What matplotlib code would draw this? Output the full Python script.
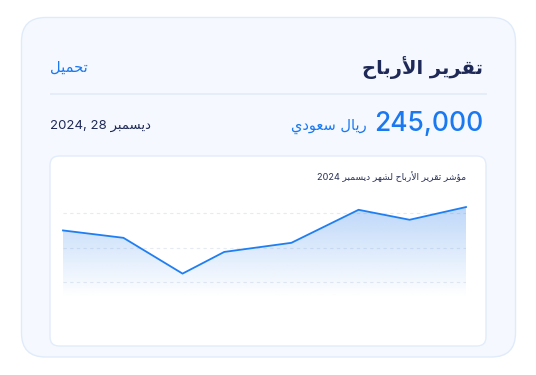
import numpy as np
import matplotlib
matplotlib.use("Agg")
import matplotlib.pyplot as plt
from matplotlib.patches import FancyBboxPatch

# ---------------------------------------------------------------- data
TITLE = "تقرير الأرباح"
DOWNLOAD = "تحميل"
TOTAL_VALUE = 245000
CURRENCY = "ريال سعودي"
DATE_DAY = 28
DATE_MONTH = "ديسمبر"
DATE_YEAR = 2024
CHART_TITLE = "مؤشر تقرير الأرباح لشهر ديسمبر 2024"

days = [1, 5.5, 9.9, 13, 18, 23, 26.8, 31]          # day of December
profit = [50.1, 45.8, 25.0, 37.6, 42.9, 62.1, 56.3, 63.7]
grid_levels = [20, 40, 60]

# ------------------------------------------------ arabic glyph shaping
# (isolated, final, initial, medial) presentation forms
FORMS = {
    "ا": (0xFE8D, 0xFE8E, None, None),
    "أ": (0xFE83, 0xFE84, None, None),
    "ؤ": (0xFE85, 0xFE86, None, None),
    "د": (0xFEA9, 0xFEAA, None, None),
    "ر": (0xFEAD, 0xFEAE, None, None),
    "و": (0xFEED, 0xFEEE, None, None),
    "ب": (0xFE8F, 0xFE90, 0xFE91, 0xFE92),
    "ت": (0xFE95, 0xFE96, 0xFE97, 0xFE98),
    "ح": (0xFEA1, 0xFEA2, 0xFEA3, 0xFEA4),
    "س": (0xFEB1, 0xFEB2, 0xFEB3, 0xFEB4),
    "ش": (0xFEB5, 0xFEB6, 0xFEB7, 0xFEB8),
    "ع": (0xFEC9, 0xFECA, 0xFECB, 0xFECC),
    "ق": (0xFED5, 0xFED6, 0xFED7, 0xFED8),
    "ل": (0xFEDD, 0xFEDE, 0xFEDF, 0xFEE0),
    "م": (0xFEE1, 0xFEE2, 0xFEE3, 0xFEE4),
    "ه": (0xFEE9, 0xFEEA, 0xFEEB, 0xFEEC),
    "ي": (0xFEF1, 0xFEF2, 0xFEF3, 0xFEF4),
}
LAM_ALEF = {
    "ا": (0xFEFB, 0xFEFC, None, None),
    "أ": (0xFEF7, 0xFEF8, None, None),
}


def shape_word(word):
    glyphs = []
    i = 0
    while i < len(word):
        c = word[i]
        if c == "ل" and i + 1 < len(word) and word[i + 1] in LAM_ALEF:
            glyphs.append(LAM_ALEF[word[i + 1]])
            i += 2
        elif c in FORMS:
            glyphs.append(FORMS[c])
            i += 1
        else:
            glyphs.append((ord(c), ord(c), None, None))
            i += 1
    out = []
    for k, g in enumerate(glyphs):
        joins_prev = k > 0 and glyphs[k - 1][2] is not None
        joins_next = g[2] is not None and k + 1 < len(glyphs)
        if joins_prev and joins_next:
            cp = g[3]
        elif joins_prev:
            cp = g[1]
        elif joins_next:
            cp = g[2]
        else:
            cp = g[0]
        out.append(chr(cp))
    return "".join(reversed(out))


def rtl(text):
    tokens = text.split(" ")
    shaped = [shape_word(t) if any(ch in FORMS for ch in t) else t for t in tokens]
    return " ".join(reversed(shaped))


# ---------------------------------------------------------------- figure
W, H = 536, 375
fig = plt.figure(figsize=(W / 100, H / 100), dpi=100)
fig.patch.set_facecolor("white")

bg = fig.add_axes([0, 0, 1, 1])
bg.set_xlim(0, W)
bg.set_ylim(H, 0)
bg.axis("off")

NAVY = "#1f2957"
BLUE = "#1a78f0"
ARABIC = ["DejaVu Sans"]
NUMS = ["Inter", "DejaVu Sans"]

# outer card
bg.add_patch(FancyBboxPatch((21.5, 17.5), 494, 339.5,
                            boxstyle="round,pad=0,rounding_size=24",
                            facecolor="#f5f9ff", edgecolor="#e0ebfa", lw=1.0))
# inner chart card
bg.add_patch(FancyBboxPatch((50, 156), 436, 190,
                            boxstyle="round,pad=0,rounding_size=9",
                            facecolor="white", edgecolor="#e2ecfa", lw=1.0))
# divider
bg.plot([50, 487], [93.5, 93.5], color="#e3ecf8", lw=1.3, solid_capstyle="butt")

# header texts
bg.text(483.5, 68, rtl(TITLE), ha="right", va="center", fontsize=14,
        fontweight="bold", color=NAVY, family=ARABIC)
bg.text(50, 67, rtl(DOWNLOAD), ha="left", va="center", fontsize=10.5,
        color=BLUE, family=ARABIC)
bg.text(483.5, 124, f"{TOTAL_VALUE:,}", ha="right", va="center", fontsize=19,
        fontweight="medium", color=BLUE, family=NUMS)
bg.text(367, 126.5, rtl(CURRENCY), ha="right", va="center", fontsize=10.5,
        color=BLUE, family=ARABIC)
bg.text(50, 126, f"{DATE_YEAR}, {DATE_DAY} " + shape_word(DATE_MONTH),
        ha="left", va="center", fontsize=9.5, color=NAVY, family=NUMS)
bg.text(466, 177, rtl(CHART_TITLE), ha="right", va="center", fontsize=6.6,
        color="#2a3156", family=NUMS)

# ---------------------------------------------------------------- chart
px_left, px_right = 63, 466
px_top, px_bottom = 195, 297
ax = fig.add_axes([px_left / W, 1 - px_bottom / H,
                   (px_right - px_left) / W, (px_bottom - px_top) / H])
ax.patch.set_visible(False)
ax.axis("off")

ymin, ymax = 11.4, 70.7
ax.set_xlim(days[0], days[-1])
ax.set_ylim(ymin, ymax)

for g in grid_levels:
    ax.axhline(g, color="#e6ebf2", lw=0.8, ls=(0, (3, 3)), zorder=1)

# gradient area under the line
poly = ax.fill_between(days, profit, ymin, color="none", lw=0)
clip = poly.get_paths()[0]
grad = np.zeros((256, 1, 4))
grad[:, 0, 0] = 47 / 255
grad[:, 0, 1] = 128 / 255
grad[:, 0, 2] = 237 / 255
grad[:, 0, 3] = np.linspace(0.36, 0.0, 256)
im = ax.imshow(grad, extent=[days[0], days[-1], ymin, ymax], aspect="auto",
               origin="upper", zorder=2, interpolation="bilinear")
im.set_clip_path(clip, transform=ax.transData)

ax.plot(days, profit, color="#1f7ff2", lw=1.3, zorder=3, clip_on=False,
        solid_joinstyle="round")

fig.savefig("out.png", dpi=100, facecolor="white")
